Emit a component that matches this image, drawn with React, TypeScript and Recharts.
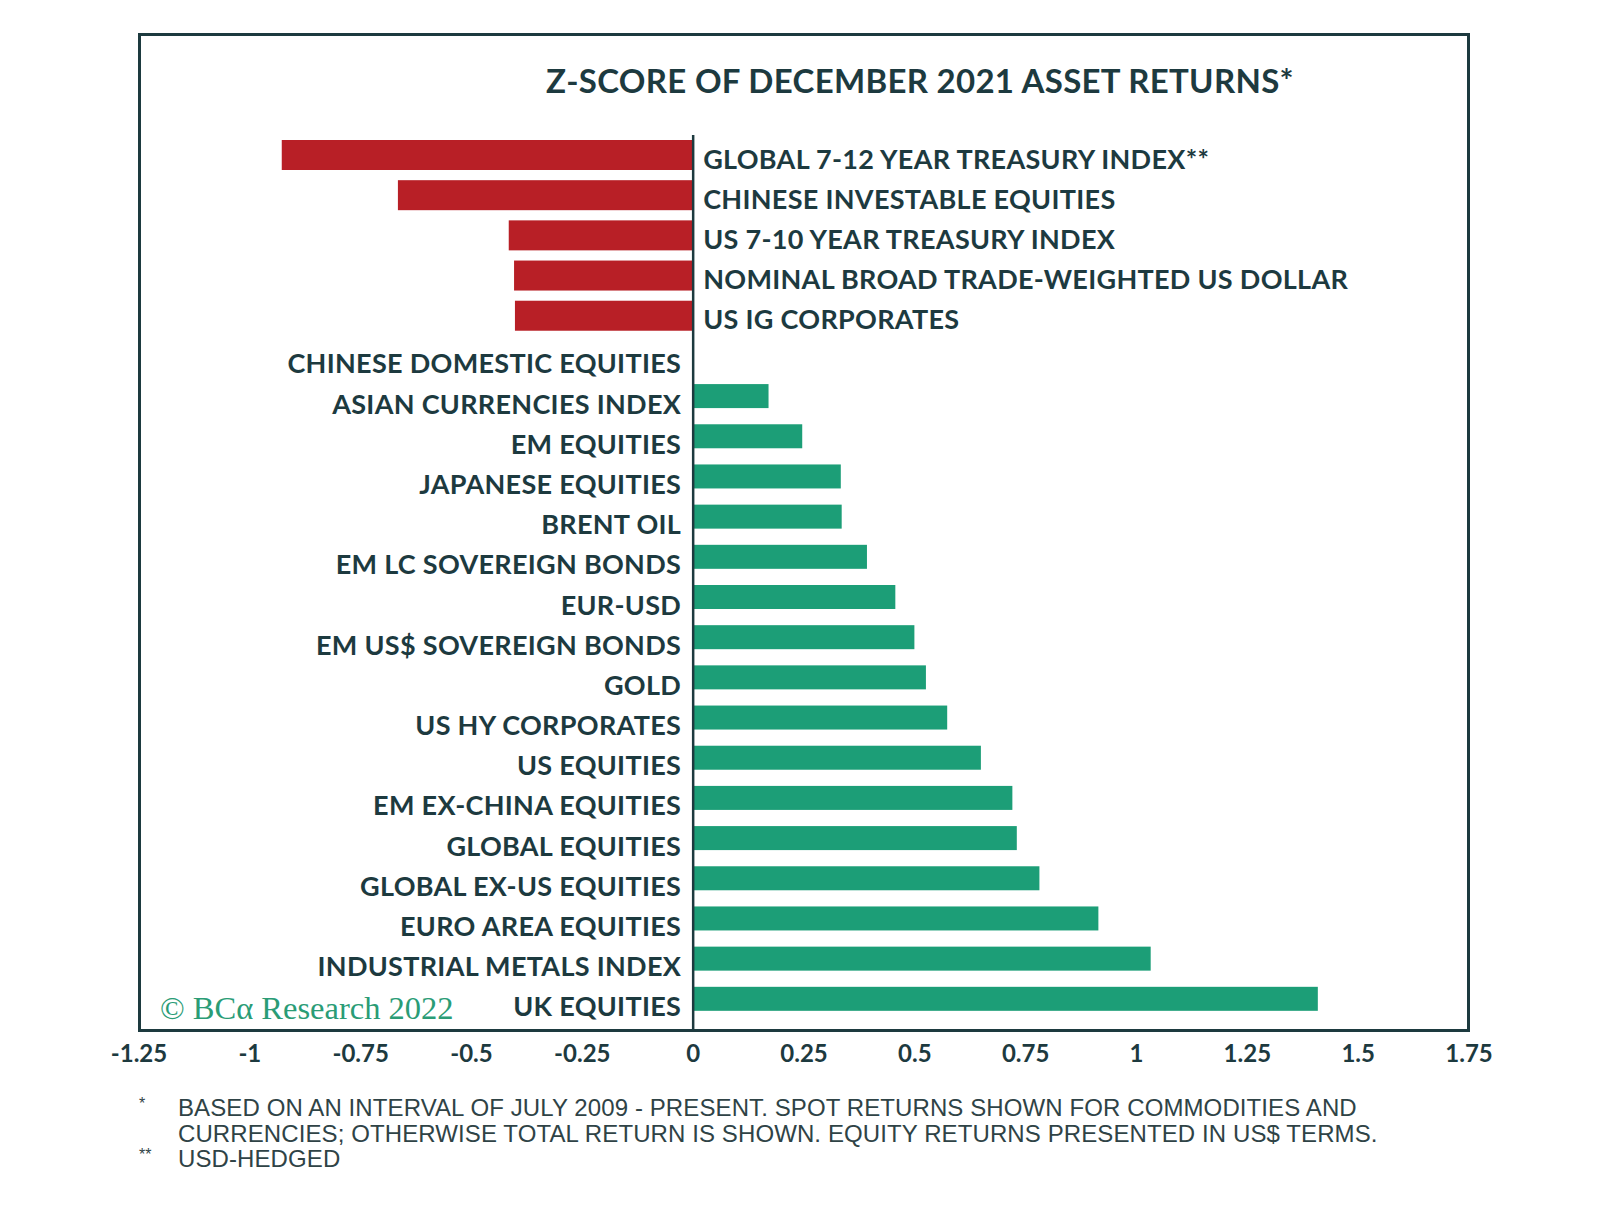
import React from 'react'
import { BarChart, Bar, XAxis, YAxis, ReferenceLine, LabelList } from 'recharts'

const categories = [
  'GLOBAL 7-12 YEAR TREASURY INDEX**',
  'CHINESE INVESTABLE EQUITIES',
  'US 7-10 YEAR TREASURY INDEX',
  'NOMINAL BROAD TRADE-WEIGHTED US DOLLAR',
  'US IG CORPORATES',
  'CHINESE DOMESTIC EQUITIES',
  'ASIAN CURRENCIES INDEX',
  'EM EQUITIES',
  'JAPANESE EQUITIES',
  'BRENT OIL',
  'EM LC SOVEREIGN BONDS',
  'EUR-USD',
  'EM US$ SOVEREIGN BONDS',
  'GOLD',
  'US HY CORPORATES',
  'US EQUITIES',
  'EM EX-CHINA EQUITIES',
  'GLOBAL EQUITIES',
  'GLOBAL EX-US EQUITIES',
  'EURO AREA EQUITIES',
  'INDUSTRIAL METALS INDEX',
  'UK EQUITIES',
]

const zScores = [
  -0.928, -0.666, -0.416, -0.404, -0.402, 0, 0.17, 0.246, 0.333, 0.335, 0.392,
  0.456, 0.499, 0.525, 0.573, 0.649, 0.72, 0.73, 0.781, 0.914, 1.032, 1.409,
]

const xTicks = [-1.25, -1, -0.75, -0.5, -0.25, 0, 0.25, 0.5, 0.75, 1, 1.25, 1.5, 1.75]

const footnotes = [
  { mark: '*', lines: [
    'BASED ON AN INTERVAL OF JULY 2009 - PRESENT. SPOT RETURNS SHOWN FOR COMMODITIES AND',
    'CURRENCIES; OTHERWISE TOTAL RETURN IS SHOWN. EQUITY RETURNS PRESENTED IN US$ TERMS.',
  ] },
  { mark: '**', lines: ['USD-HEDGED'] },
]

const RED = '#b81f26'
const GREEN = '#1c9e77'
const INK = '#1d3a3f'
const LABEL_FONT = 'Lato, "Open Sans", sans-serif'

const data = categories.map((name, i) => ({ name, z: zScores[i] }))

// red bars are a bit thicker than the green ones in the original
const BarShape = (props: any) => {
  const { x, y, width, height, index } = props
  const neg = zScores[index] < 0
  const h = neg ? height : height * 0.8
  return (
    <rect
      x={Math.min(x, x + width)}
      y={y + (height - h) / 2}
      width={Math.abs(width)}
      height={h}
      fill={neg ? RED : GREEN}
    />
  )
}

// negative rows get their name right of zero, the rest left of zero
const BarLabel = (props: any) => {
  const { x, y, width, height, index } = props
  const v = zScores[index]
  const cy = y + height / 2
  const common = {
    fontFamily: LABEL_FONT,
    fontWeight: 700,
    fontSize: 27,
    letterSpacing: 0.3,
    fill: INK,
    dominantBaseline: 'central' as const,
  }
  if (v < 0) {
    const zero = Math.max(x, x + width)
    return <text x={zero + 10} y={cy + 3} textAnchor="start" {...common}>{categories[index]}</text>
  }
  const zero = Math.min(x, x + width)
  return <text x={zero - 12} y={cy + 7} textAnchor="end" {...common}>{categories[index]}</text>
}

export default function App() {
  return (
    <div style={{ position: 'absolute', left: 0, top: 0, width: 1600, height: 1219, background: '#fff' }}>
      <BarChart
        width={1600}
        height={1219}
        data={data}
        layout="vertical"
        margin={{ top: 135, right: 131, left: 139, bottom: 158 }}
        barSize={30}
      >
        <XAxis
          type="number"
          domain={[-1.25, 1.75]}
          ticks={xTicks}
          height={30}
          axisLine={false}
          tickLine={false}
          tickSize={0}
          tickMargin={14}
          tick={{ fill: INK, fontSize: 24, fontWeight: 700, fontFamily: LABEL_FONT }}
        />
        <YAxis type="category" dataKey="name" hide padding={{ top: 0, bottom: 12 }} />
        <Bar dataKey="z" isAnimationActive={false} shape={<BarShape />}>
          <LabelList dataKey="name" content={<BarLabel />} />
        </Bar>
        <ReferenceLine x={0} stroke={INK} strokeWidth={2.5} />
      </BarChart>
      <div
        style={{
          position: 'absolute',
          left: 138,
          top: 33,
          width: 1332,
          height: 999,
          boxSizing: 'border-box',
          border: `3px solid ${INK}`,
          pointerEvents: 'none',
        }}
      />
      <svg width={1600} height={1219} style={{ position: 'absolute', left: 0, top: 0, pointerEvents: 'none' }}>
        <text x={546} y={80} dominantBaseline="central" fontFamily={LABEL_FONT} fontWeight={700} fontSize={33} letterSpacing={0.3} fill={INK}>
          Z-SCORE OF DECEMBER 2021 ASSET RETURNS*
        </text>
        <text x={160} y={1008} dominantBaseline="central" fontFamily='"Liberation Serif", serif' fontSize={32.5} fill="#2a9c76">
          © BCα Research 2022
        </text>
        {footnotes.map((f, fi) => {
          const base = fi === 0 ? 1107 : 1158
          return (
            <g key={fi} fontFamily='"Liberation Sans", Arial, sans-serif' fontSize={24} letterSpacing={0.1} fill="#2f4346">
              <text x={139} y={base - 4} dominantBaseline="central" fontSize={16}>{f.mark}</text>
              {f.lines.map((l, li) => (
                <text key={li} x={178} y={base + li * 26} dominantBaseline="central">{l}</text>
              ))}
            </g>
          )
        })}
      </svg>
    </div>
  )
}
